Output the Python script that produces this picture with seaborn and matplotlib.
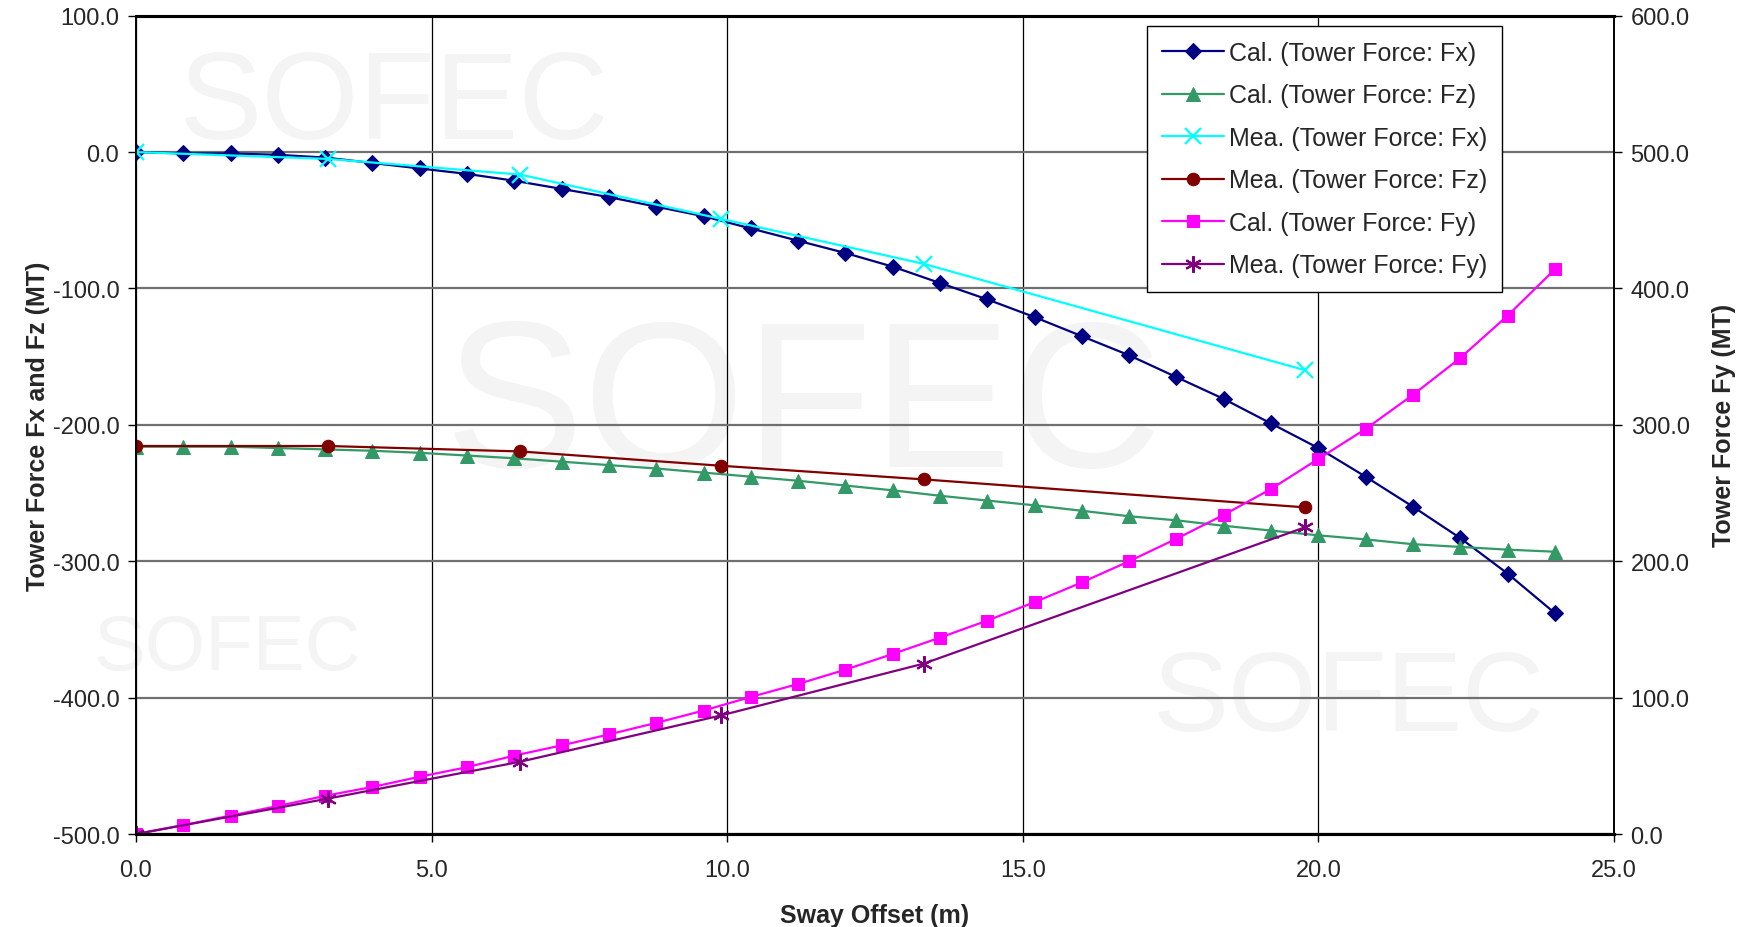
import numpy as np
import pandas as pd
import seaborn as sns
import matplotlib.pyplot as plt
from matplotlib.ticker import MultipleLocator, FormatStrFormatter

# --- data ---
cal_x = [0.0, 0.8, 1.6, 2.4, 3.2, 4.0, 4.8, 5.6, 6.4, 7.2, 8.0, 8.8, 9.6, 10.4, 11.2, 12.0,
         12.8, 13.6, 14.4, 15.2, 16.0, 16.8, 17.6, 18.4, 19.2, 20.0, 20.8, 21.6, 22.4, 23.2, 24.0]
cal_fx = [0, -1, -1, -2, -4, -8, -12, -16, -21, -27, -33, -40, -47, -56, -65, -74,
          -84, -96, -108, -121, -135, -149, -165, -181, -199, -217, -238, -260, -283, -309, -338]
cal_fz = [-216, -216, -216, -217, -218, -219, -220.5, -222.5, -224.5, -227, -229.5, -232, -235, -238, -241, -244.5,
          -248, -252, -255.5, -259, -263, -267, -270, -274, -277.5, -281, -284, -287.5, -289.5, -291.5, -293]
cal_fy = [0, 6.5, 13.5, 20.5, 28, 34.5, 42, 49, 57.5, 65, 73, 81.5, 90.5, 100.5, 110, 120.5,
          132, 144, 156.5, 170, 184.5, 200, 216.5, 234, 253, 275, 297, 322, 349, 380, 414]

mea_x = [0.0, 3.25, 6.5, 9.9, 13.33, 19.78]
mea_fx = [0, -5, -16.5, -49, -82, -160]
mea_fz = [-215.5, -215.5, -219.5, -230, -240, -260.5]
mea_fy = [0, 26, 53, 87, 125, 225]

labels = ["Cal. (Tower Force: Fx)", "Cal. (Tower Force: Fz)", "Mea. (Tower Force: Fx)",
          "Mea. (Tower Force: Fz)", "Cal. (Tower Force: Fy)", "Mea. (Tower Force: Fy)"]

sns.set_style("white")
fonts = ['Liberation Sans', 'DejaVu Sans']
plt.rcParams['font.family'] = fonts

fig = plt.figure(figsize=(17.48, 9.28), dpi=100)
ax = fig.add_axes([0.0778, 0.1002, 0.8455, 0.8818])
ax.patch.set_alpha(0)

# faint background watermark
for (xc, yc, fs) in [(0.225, 0.885, 90), (0.46, 0.555, 150), (0.13, 0.30, 56),
                     (0.772, 0.243, 82)]:
    fig.text(xc, yc, "SOFEC", fontsize=fs, color='#f4f4f4', ha='center', va='center',
             zorder=-5)

ax2 = ax.twinx()

sns.lineplot(x=cal_x, y=cal_fx, ax=ax, color='#000080', marker='D', markersize=8,
             markeredgecolor='#000080', lw=1.6, label=labels[0], legend=False)
sns.lineplot(x=cal_x, y=cal_fz, ax=ax, color='#339966', marker='^', markersize=10,
             markeredgecolor='#339966', lw=1.6, label=labels[1], legend=False)
sns.lineplot(x=mea_x, y=mea_fx, ax=ax, color='#00FFFF', marker='x', markersize=11,
             markeredgecolor='#00FFFF', markeredgewidth=1.6, lw=1.6, label=labels[2], legend=False)
sns.lineplot(x=mea_x, y=mea_fz, ax=ax, color='#800000', marker='o', markersize=9,
             markeredgecolor='#800000', lw=1.6, label=labels[3], legend=False)
sns.lineplot(x=cal_x, y=cal_fy, ax=ax2, color='#FF00FF', marker='s', markersize=9,
             markeredgecolor='#FF00FF', lw=1.6, label=labels[4], legend=False)
sns.lineplot(x=mea_x, y=mea_fy, ax=ax2, color='#800080', marker=(6, 2, 0), markersize=12,
             markeredgecolor='#800080', markeredgewidth=1.5, lw=1.6, label=labels[5], legend=False)

ax.set_xlim(0, 25)
ax.set_ylim(-500, 100)
ax2.set_ylim(0, 600)
ax.xaxis.set_major_locator(MultipleLocator(5))
ax.yaxis.set_major_locator(MultipleLocator(100))
ax2.yaxis.set_major_locator(MultipleLocator(100))
for a in (ax, ax2):
    a.xaxis.set_major_formatter(FormatStrFormatter('%.1f'))
    a.yaxis.set_major_formatter(FormatStrFormatter('%.1f'))

ax.grid(True, axis='x', color='black', lw=0.9)
ax.grid(True, axis='y', color='#707070', lw=1.6)
ax.set_axisbelow(True)

for a in (ax, ax2):
    for s in a.spines.values():
        s.set_color('black')
        s.set_linewidth(1.2)
    a.spines['top'].set_linewidth(2.2)
    a.spines['bottom'].set_linewidth(2.2)

ax.tick_params(axis='x', labelsize=17, direction='out', length=6, width=1, color='black',
               bottom=True, pad=12)
ax.tick_params(axis='y', labelsize=17, direction='out', length=6, width=1, color='black',
               left=True, pad=6)
ax2.tick_params(axis='y', labelsize=17, direction='out', length=6, width=1, color='black',
                right=True, pad=6)

ax.set_xlabel("Sway Offset (m)", fontsize=18, fontweight='bold', labelpad=16)
ax.set_ylabel("Tower Force Fx and Fz (MT)", fontsize=18, fontweight='bold', labelpad=2)
ax2.set_ylabel("Tower Force Fy (MT)", fontsize=18, fontweight='bold', labelpad=16,
               rotation=90)

h1, l1 = ax.get_legend_handles_labels()
h2, l2 = ax2.get_legend_handles_labels()
leg = ax2.legend(h1 + h2, l1 + l2, loc='upper right', bbox_to_anchor=(0.9245, 0.9875),
                 fontsize=18, frameon=True, fancybox=False, edgecolor='black',
                 handlelength=2.5, labelspacing=0.74, borderpad=0.6, handletextpad=0.2,
                 borderaxespad=0)
leg.get_frame().set_linewidth(1.0)
leg.get_frame().set_alpha(1)

fig.savefig("out.png", dpi=100)
